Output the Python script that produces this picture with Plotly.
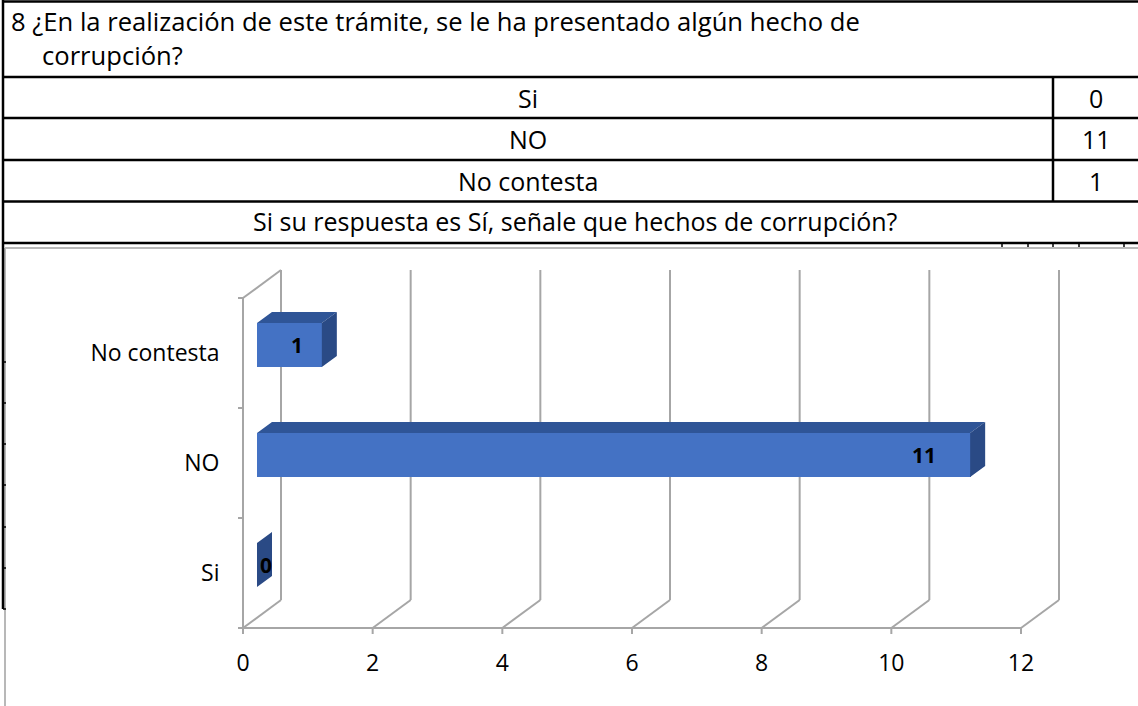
import plotly.graph_objects as go
import numpy as np

# ---------------- data ----------------
categories = ["Si", "NO", "No contesta"]
values = [0, 11, 1]
table_rows = ["Si", "NO", "No contesta"]
table_values = ["0", "11", "1"]
x_ticks = [0, 2, 4, 6, 8, 10, 12]
title_line1 = "8 ¿En la realización de este trámite, se le ha presentado algún hecho de"
title_line2 = "corrupción?"
sub_question = "Si su respuesta es Sí, señale que hechos de corrupción?"

# ---------------- geometry ----------------
W, H = 1138, 706
FONT = "Open Sans"
X0_PX, X12_PX = 243, 1021          # front-plane pixel of x=0 and x=12
Y0_PX = 628                        # front-plane bottom pixel
PX = (X12_PX - X0_PX) / 12.0       # pixels per x unit
PY = 110.0                         # pixels per category
XR = [-0.1, 12.7]
YR = [-0.1, 3.3]

def fx(p):
    return p / W

def fy(p):
    return 1 - p / H

x_dom = [fx(X0_PX + XR[0] * PX), fx(X0_PX + XR[1] * PX)]
y_dom = [fy(Y0_PX - YR[0] * PY), fy(Y0_PX - YR[1] * PY)]

BACK_DX = 38 / PX
BACK_DY = 28 / PY
FACE_DX = 14 / PX
FACE_DY = 8 / PY
BAR_W = 44 / PY
DEP_DX = 15 / PX
DEP_DY = 11 / PY

cat_pos = np.arange(len(categories)) + 0.5
vals = np.array(values, dtype=float)

GRID = "#A6A6A6"
FRONT = "#4472C4"
TOP = "#2F5597"
SIDE = "#2A4A85"

fig = go.Figure()

# front faces of the bars
fig.add_trace(go.Bar(
    x=vals, y=cat_pos + FACE_DY, base=FACE_DX, orientation="h",
    width=BAR_W, marker=dict(color=FRONT, line=dict(width=0)),
    hoverinfo="skip", showlegend=False))

# top faces and side faces
top_x, top_y, side_x, side_y = [], [], [], []
for v, c in zip(vals, cat_pos):
    yt = c + FACE_DY + BAR_W / 2
    yb = c + FACE_DY - BAR_W / 2
    x0 = FACE_DX
    x1 = FACE_DX + v
    top_x += [x0, x1, x1 + DEP_DX, x0 + DEP_DX, x0, None]
    top_y += [yt, yt, yt + DEP_DY, yt + DEP_DY, yt, None]
    side_x += [x1, x1 + DEP_DX, x1 + DEP_DX, x1, x1, None]
    side_y += [yt, yt + DEP_DY, yb + DEP_DY, yb, yt, None]
fig.add_trace(go.Scatter(x=top_x, y=top_y, fill="toself", fillcolor=TOP,
                         mode="lines", line=dict(width=0), hoverinfo="skip",
                         showlegend=False))
fig.add_trace(go.Scatter(x=side_x, y=side_y, fill="toself", fillcolor=SIDE,
                         mode="lines", line=dict(width=0), hoverinfo="skip",
                         showlegend=False))

# value labels
lab_font = dict(family=FONT, size=21, color="black")
for v, c in zip(vals, cat_pos):
    if v > 0:
        fig.add_annotation(x=FACE_DX + v - (15 + 1.6 * v) / PX, y=c + FACE_DY, xref="x", yref="y",
                           text="<b>%d</b>" % v, showarrow=False, xanchor="right",
                           yanchor="middle", font=lab_font)
    else:
        fig.add_annotation(x=FACE_DX + v + 9 / PX, y=c + FACE_DY, xref="x", yref="y",
                           text="<b>%d</b>" % v, showarrow=False, xanchor="center",
                           yanchor="middle", font=lab_font)

# 3D walls / gridlines as shapes (below traces)
shapes = []
ytop = len(categories)
for v in x_ticks:
    shapes.append(dict(type="line", xref="x", yref="y", x0=v + BACK_DX, y0=BACK_DY,
                       x1=v + BACK_DX, y1=ytop + BACK_DY, line=dict(color=GRID, width=2), layer="below"))
    shapes.append(dict(type="line", xref="x", yref="y", x0=v, y0=0,
                       x1=v + BACK_DX, y1=BACK_DY, line=dict(color=GRID, width=2), layer="below"))
    shapes.append(dict(type="line", xref="x", yref="y", x0=v, y0=0,
                       x1=v, y1=-6 / PY, line=dict(color=GRID, width=2), layer="below"))
# front bottom axis line and left axis
shapes.append(dict(type="line", xref="x", yref="y", x0=0, y0=0, x1=x_ticks[-1], y1=0,
                   line=dict(color=GRID, width=2), layer="below"))
shapes.append(dict(type="line", xref="x", yref="y", x0=0, y0=0, x1=0, y1=ytop,
                   line=dict(color=GRID, width=2), layer="below"))
shapes.append(dict(type="line", xref="x", yref="y", x0=0, y0=ytop, x1=BACK_DX, y1=ytop + BACK_DY,
                   line=dict(color=GRID, width=2), layer="below"))
for k in range(len(categories) + 1):
    shapes.append(dict(type="line", xref="x", yref="y", x0=-5 / PX, y0=k, x1=0, y1=k,
                       line=dict(color=GRID, width=2), layer="below"))

# ---------------- table (paper coords) ----------------
BLK = dict(color="black", width=2.5)
def hline(y, x0, x1, line=BLK):
    shapes.append(dict(type="line", xref="paper", yref="paper", x0=fx(x0), x1=fx(x1),
                       y0=fy(y), y1=fy(y), line=line))
def vline(x, y0, y1, line=BLK):
    shapes.append(dict(type="line", xref="paper", yref="paper", x0=fx(x), x1=fx(x),
                       y0=fy(y0), y1=fy(y1), line=line))

FRAME = dict(color="#B8B8B8", width=2)
hline(248, 5, W, FRAME)
vline(5, 248, H, FRAME)
for y in [1.5, 77, 118, 160, 201.5, 243]:
    hline(y, 3, W)
vline(3, 0, 609)
vline(1053, 77, 201.5)
for x in [1002, 1028, 1053, 1079, 1124]:
    vline(x, 243, 247, dict(color="black", width=1.5))
for y in [362, 403, 444, 485, 527, 568, 609]:
    hline(y, 3, 6, dict(color="black", width=1.5))

ann_font = dict(family=FONT, size=25, color="black")
title_font = dict(family=FONT, size=25.6, color="black")
fig.add_annotation(x=fx(9), y=fy(22), xref="paper", yref="paper", text=title_line1,
                   showarrow=False, xanchor="left", yanchor="middle", font=title_font)
fig.add_annotation(x=fx(40), y=fy(56), xref="paper", yref="paper", text=title_line2,
                   showarrow=False, xanchor="left", yanchor="middle", font=title_font)
for i, (r, v) in enumerate(zip(table_rows, table_values)):
    yc = 98 + i * 41.3
    fig.add_annotation(x=fx(528), y=fy(yc), xref="paper", yref="paper", text=r,
                       showarrow=False, xanchor="center", yanchor="middle", font=ann_font)
    fig.add_annotation(x=fx(1096), y=fy(yc), xref="paper", yref="paper", text=v,
                       showarrow=False, xanchor="center", yanchor="middle", font=ann_font)
fig.add_annotation(x=fx(575), y=fy(221), xref="paper", yref="paper", text=sub_question,
                   showarrow=False, xanchor="center", yanchor="middle", font=ann_font)

tick_font = dict(family=FONT, size=23, color="black")
fig.update_layout(
    width=W, height=H, autosize=False,
    margin=dict(l=0, r=0, t=0, b=0, pad=0),
    paper_bgcolor="white", plot_bgcolor="rgba(0,0,0,0)",
    shapes=shapes, showlegend=False, bargap=0,
    xaxis=dict(domain=x_dom, range=XR, tickvals=x_ticks, ticktext=[str(t) for t in x_ticks],
               showgrid=False, zeroline=False, showline=False, ticks="",
               tickfont=tick_font, ticklabelstandoff=8, fixedrange=True),
    yaxis=dict(domain=y_dom, range=YR, tickvals=list(cat_pos), ticktext=categories,
               showgrid=False, zeroline=False, showline=False, ticks="",
               tickfont=tick_font, ticklabelstandoff=16, fixedrange=True),
)

fig.write_html("out.html", config={"displayModeBar": False},
               post_script="document.body.style.margin='0';document.body.style.overflow='hidden';")
